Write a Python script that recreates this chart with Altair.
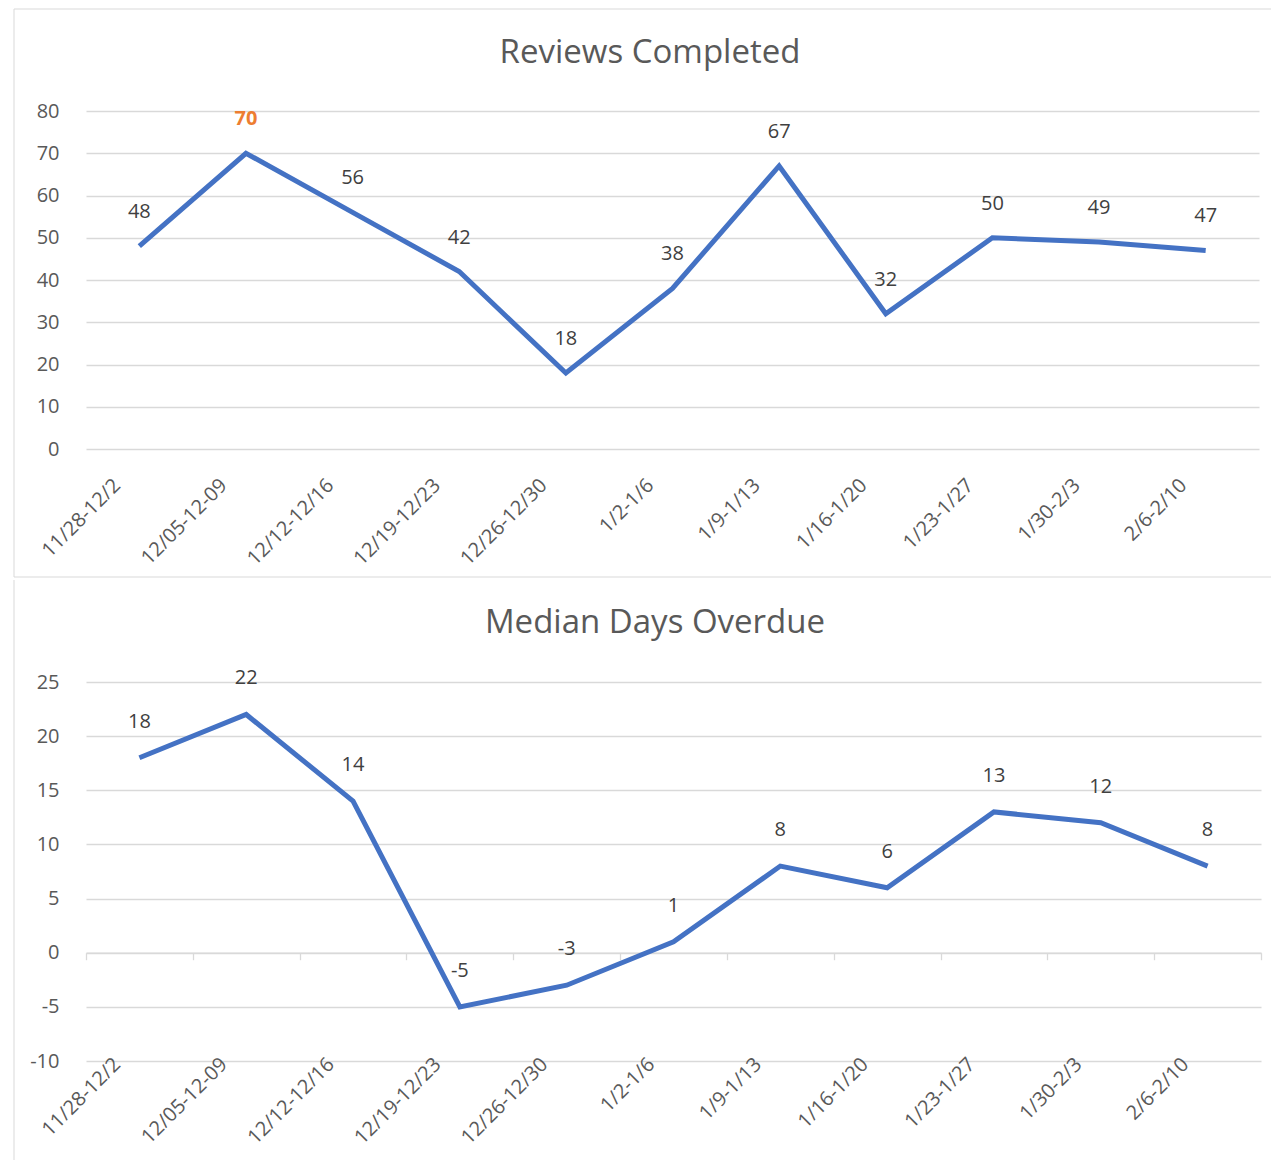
import altair as alt
import pandas as pd

weeks = ["11/28-12/2", "12/05-12-09", "12/12-12/16", "12/19-12/23", "12/26-12/30",
         "1/2-1/6", "1/9-1/13", "1/16-1/20", "1/23-1/27", "1/30-2/3", "2/6-2/10"]
reviews = [48, 70, 56, 42, 18, 38, 67, 32, 50, 49, 47]
overdue = [18, 22, 14, -5, -3, 1, 8, 6, 13, 12, 8]
highlight = [False, True, False, False, False, False, False, False, False, False, False]
titles = ["Reviews Completed", "Median Days Overdue"]

df = pd.DataFrame({
    "week": weeks, "reviews": reviews, "overdue": overdue, "hl": highlight,
    "rev_lbl": [str(v) for v in reviews], "od_lbl": [str(v) for v in overdue],
})
frame_df = pd.DataFrame({"f": [0]})

FONT = "Segoe UI, Open Sans, sans-serif"
LINE = "#4472C4"
GRID = "#D9D9D9"
FRAME = "#D9D9D9"
LAB = "#595959"
TXT = "#404040"
FS = 20
xscale = alt.Scale(type="band", paddingInner=0, paddingOuter=0)

TOP_W, TOP_H = 1173, 338
BOT_W, BOT_H = 1175, 379


def frame_rule(**enc):
    return alt.Chart(frame_df).mark_rule(color=FRAME, strokeWidth=1).encode(**enc)


def title_mark(text, x, y):
    return alt.Chart(frame_df).mark_text(
        text=text, fontSize=33, font=FONT, color=LAB, align="center", baseline="middle"
    ).encode(x=alt.value(x), y=alt.value(y))


# ---------- top chart ----------
x_top = alt.X("week:N", sort=weeks, scale=xscale,
              axis=alt.Axis(title=None, labelAngle=-45, labelAlign="right", labelBaseline="middle",
                            labelOffset=-22, labelPadding=33, domain=False, ticks=False,
                            grid=False, labelFontSize=FS, labelColor=LAB, labelFont=FONT))
y_top = alt.Y("reviews:Q", scale=alt.Scale(domain=[0, 80], nice=False),
              axis=alt.Axis(title=None, values=list(range(0, 81, 10)), domain=False, ticks=False,
                            gridColor=GRID, gridWidth=1.3, labelFontSize=FS, labelColor=LAB,
                            labelFont=FONT, labelPadding=27, labelExpr="'' + datum.value"))
top_base = alt.Chart(df).encode(x=x_top, y=y_top)
top_line = top_base.mark_line(color=LINE, strokeWidth=5)
top_text = top_base.mark_text(dy=-34, fontSize=FS, font=FONT, color=TXT).encode(
    text="rev_lbl:N").transform_filter("!datum.hl")
top_text_hl = top_base.mark_text(dy=-34, fontSize=FS, font=FONT, color="#ED7D31",
                                 fontWeight="bold").encode(
    text="rev_lbl:N").transform_filter("datum.hl")
top_deco = [
    frame_rule(x=alt.value(-72), y=alt.value(-102), y2=alt.value(466)),
    frame_rule(x=alt.value(-72), x2=alt.value(1185), y=alt.value(-102)),
    frame_rule(x=alt.value(-72), x2=alt.value(1185), y=alt.value(466)),
    title_mark(titles[0], 564, -58),
]
top = alt.layer(top_line, top_text, top_text_hl, *top_deco).properties(
    width=TOP_W, height=TOP_H,
)

# ---------- bottom chart ----------
y_bot = alt.Y("overdue:Q", scale=alt.Scale(domain=[-10, 25], nice=False),
              axis=alt.Axis(title=None, values=list(range(-10, 26, 5)), domain=False, ticks=False,
                            gridColor=GRID, gridWidth=1.3, labelFontSize=FS, labelColor=LAB,
                            labelFont=FONT, labelPadding=27, labelExpr="'' + datum.value"))
x_bot_labels = alt.X("week:N", sort=weeks, scale=xscale,
                     axis=alt.Axis(title=None, orient="bottom", labelAngle=-45, labelAlign="right",
                                   labelBaseline="middle", labelOffset=-22, labelPadding=0,
                                   domain=False, ticks=False, grid=False, labelFontSize=FS,
                                   labelColor=LAB, labelFont=FONT))
x_bot_zero = alt.X("week:N", sort=weeks, scale=xscale,
                   axis=alt.Axis(title=None, orient="bottom", labels=False, domain=True,
                                 domainColor=GRID, domainWidth=1.3, ticks=True, tickBand="extent",
                                 tickSize=7, tickColor=GRID, tickWidth=1.3, grid=False,
                                 offset=-BOT_H * 10 / 35))
bot_line = alt.Chart(df).mark_line(color=LINE, strokeWidth=5).encode(x=x_bot_labels, y=y_bot)
bot_text = alt.Chart(df).mark_text(dy=-36, fontSize=FS, font=FONT, color=TXT).encode(
    x=x_bot_zero, y=y_bot, text="od_lbl:N")
bot_deco = [
    frame_rule(x=alt.value(-72), y=alt.value(-102), y2=alt.value(478)),
    title_mark(titles[1], 569, -59),
]
bottom = alt.layer(bot_line, bot_text, *bot_deco).resolve_axis(x="independent").properties(
    width=BOT_W, height=BOT_H,
)

chart = alt.concat(top, bottom, columns=1, align="none", spacing=1).properties(
    padding={"left": 5, "top": 0, "right": 0, "bottom": 0},
    background="white",
).configure_view(stroke=None)

chart.save("out.html", embed_options={"renderer": "svg", "actions": False})
